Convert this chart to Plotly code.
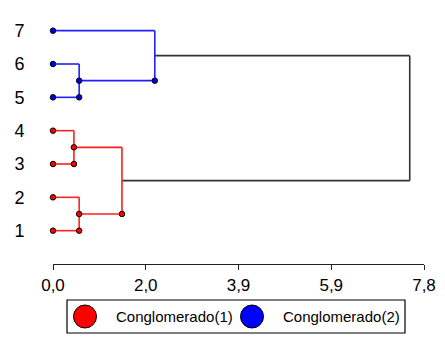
import plotly.graph_objects as go

# ---- data ----
leaf_labels = ["1", "2", "3", "4", "5", "6", "7"]
leaf_cluster = [1, 1, 1, 1, 2, 2, 2]
# merges: (child_a, child_b, height); leaves are 1..7, new nodes 8..13
merge_a = [3, 5, 1, 10, 9, 11]
merge_b = [4, 6, 2, 8, 7, 12]
merge_h = [0.44, 0.55, 0.55, 1.45, 2.14, 7.50]
x_tickvals = [0.0, 1.95, 3.9, 5.85, 7.8]
x_ticktext = ["0,0", "2,0", "3,9", "5,9", "7,8"]
legend_names = ["Conglomerado(1)", "Conglomerado(2)"]
cluster_colors = {1: "#ff2020", 2: "#2020ff", 0: "#333333"}
dot_colors = {1: "#ff0000", 2: "#0000dd"}

# ---- compute dendrogram geometry ----
n = len(leaf_labels)
node_y = {i + 1: float(i + 1) for i in range(n)}
node_x = {i + 1: 0.0 for i in range(n)}
node_cl = {i + 1: leaf_cluster[i] for i in range(n)}
parent = {}
for k, (a, b, h) in enumerate(zip(merge_a, merge_b, merge_h)):
    nid = n + 1 + k
    node_y[nid] = (node_y[a] + node_y[b]) / 2
    node_x[nid] = h
    node_cl[nid] = node_cl[a] if node_cl[a] == node_cl[b] else 0
    parent[a] = nid
    parent[b] = nid
root = n + len(merge_h)

fig = go.Figure()
seg = {0: ([], []), 1: ([], []), 2: ([], []), }
for k, (a, b, h) in enumerate(zip(merge_a, merge_b, merge_h)):
    nid = n + 1 + k
    c = node_cl[nid]
    xs, ys = seg[c]
    for ch in (a, b):
        xs += [node_x[ch], h, None]
        ys += [node_y[ch], node_y[ch], None]
    xs += [h, h, None]
    ys += [node_y[a], node_y[b], None]

for c in (0, 1, 2):
    xs, ys = seg[c]
    fig.add_trace(go.Scatter(x=xs, y=ys, mode="lines",
                             line=dict(color=cluster_colors[c], width=1.6),
                             hoverinfo="skip", showlegend=False, cliponaxis=False))

# dots
dots = {1: ([], []), 2: ([], [])}
for nid in node_x:
    if nid == root or parent.get(nid) == root:
        continue
    c = node_cl[nid]
    dots[c][0].append(node_x[nid]); dots[c][1].append(node_y[nid])
for k, (a, b, h) in enumerate(zip(merge_a, merge_b, merge_h)):
    nid = n + 1 + k
    if nid == root:
        continue
    low = a if node_y[a] < node_y[b] else b
    c = node_cl[nid]
    dots[c][0].append(h); dots[c][1].append(node_y[low])
for c in (1, 2):
    fig.add_trace(go.Scatter(x=dots[c][0], y=dots[c][1], mode="markers",
                             marker=dict(size=5.5, color=dot_colors[c],
                                         line=dict(color="black", width=1)),
                             showlegend=False, cliponaxis=False))

# ---- layout ----
W, H = 445, 340
L, R, T, B = 53, 21, 14, 76
pw, ph = W - L - R, H - T - B
def px(x): return (x - L) / pw
def py(y): return (H - B - y) / ph

shapes = [dict(type="rect", xref="paper", yref="paper",
               x0=px(67), x1=px(405), y0=py(300), y1=py(333),
               line=dict(color="black", width=1.2), fillcolor="white")]
annotations = []
for cx, tx, name, col in [(85, 115, legend_names[0], "#ff0000"),
                          (252, 282, legend_names[1], "#0000ff")]:
    r = 11.5
    shapes.append(dict(type="circle", xref="paper", yref="paper",
                       x0=px(cx - r), x1=px(cx + r), y0=py(316.5 + r), y1=py(316.5 - r),
                       fillcolor=col, line=dict(color="black", width=1)))
    annotations.append(dict(xref="paper", yref="paper", x=px(tx), y=py(316.5),
                            text=name, showarrow=False, xanchor="left", yanchor="middle",
                            xshift=-1,
                            font=dict(size=15, color="black", family="Liberation Sans, Arial")))

fig.update_layout(
    width=W, height=H,
    margin=dict(l=L, r=R, t=T, b=B, autoexpand=False),
    paper_bgcolor="white", plot_bgcolor="white",
    font=dict(family="Liberation Sans, Arial", color="black"),
    shapes=shapes, annotations=annotations,
    xaxis=dict(range=[0, 7.8], tickvals=x_tickvals, ticktext=x_ticktext,
               showgrid=False, zeroline=False, showline=True, linecolor="#222",
               linewidth=1.2, ticks="outside", ticklen=5, tickcolor="#222",
               tickfont=dict(size=17), fixedrange=True, automargin=False),
    yaxis=dict(range=[0, 7.5], tickvals=list(range(1, n + 1)), ticktext=leaf_labels,
               showgrid=False, zeroline=False, showline=False,
               ticks="outside", ticklen=24, tickcolor="rgba(0,0,0,0)",
               tickfont=dict(size=18), fixedrange=True, automargin=False),
)
fig.write_html("out.html", config={"displayModeBar": False},
               post_script="document.body.style.margin='0';document.body.style.overflow='hidden';")
